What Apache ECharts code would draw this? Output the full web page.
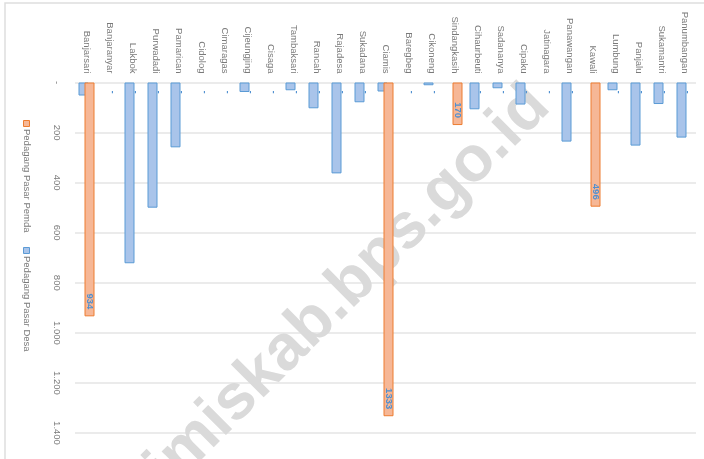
<!DOCTYPE html>
<html>
<head>
<meta charset="utf-8">
<script src="https://cdn.jsdelivr.net/npm/echarts@6/dist/echarts.min.js"></script>
<style>
html,body{margin:0;padding:0;background:#fff;}
#chart{width:704px;height:459px;}
</style>
</head>
<body>
<div id="chart"></div>
<script>
const categories = ['Banjarsari','Banjaranyar','Lakbok','Purwadadi','Pamarican','Cidolog','Cimaragas','Cijeungjing','Cisaga','Tambaksari','Rancah','Rajadesa','Sukadana','Ciamis','Baregbeg','Cikoneng','Sindangkasih','Cihaurbeuti','Sadananya','Cipaku','Jatinagara','Panawangan','Kawali','Lumbung','Panjalu','Sukamantri','Panumbangan'];
const pasarDesa  = [52,0,722,500,259,0,0,38,0,31,103,363,79,36,0,11,0,107,23,88,0,236,0,31,252,86,220];
const pasarPemda = [934,0,0,0,0,0,0,0,0,0,0,0,0,1333,0,0,170,0,0,0,0,0,496,0,0,0,0];
const seriesNames = ['Pedagang Pasar Pemda','Pedagang Pasar Desa'];
const valueMin = 0, valueMax = 1400, valueStep = 200;
const watermarkText = 'simiskab.bps.go.id';

const FONT = "'Liberation Sans',Arial,sans-serif";
const FS = 9.5;
const ORANGE = '#f6b796', ORANGE_LINE = '#ed7d31';
const BLUE = '#a9c4ea', BLUE_LINE = '#5b9bd5';

function axisFmt(v){
  if (v === 0) return '-';
  return String(v).replace(/\B(?=(\d{3})+(?!\d))/g, '.');
}
function labelFmt(v){
  return v === 0 ? '-' : String(v);
}

const desaData = pasarDesa.map(v => v === 0
  ? {value: v, itemStyle: {borderWidth: 0}}
  : {value: v});
const pemdaData = pasarPemda.map(v => v === 0
  ? {value: v, itemStyle: {borderWidth: 0},
     label: {position: 'bottom', distance: 8, align: 'left', verticalAlign: 'middle'}}
  : {value: v});

const chart = echarts.init(document.getElementById('chart'), null, {renderer: 'canvas'});
chart.setOption({
  animation: false,
  backgroundColor: '#fff',
  grid: {left: 75, right: 8, top: 82.5, bottom: 26, containLabel: false},
  xAxis: {
    type: 'category',
    position: 'top',
    data: categories,
    axisLine: {show: false},
    axisTick: {show: false},
    axisLabel: {rotate: -90, interval: 0, margin: 9, color: '#7a7a7a', fontSize: FS, fontFamily: FONT}
  },
  yAxis: {
    type: 'value',
    inverse: true,
    min: valueMin, max: valueMax, interval: valueStep,
    axisLine: {show: false},
    axisTick: {show: false},
    splitLine: {lineStyle: {color: '#e4e4e4', width: 1.5}},
    axisLabel: {rotate: -90, margin: 13, color: '#7a7a7a', fontSize: FS, fontFamily: FONT, formatter: axisFmt}
  },
  series: [
    {
      name: seriesNames[1], type: 'bar', data: desaData,
      barWidth: 10, barGap: '-40%',
      itemStyle: {color: BLUE, borderColor: BLUE_LINE, borderWidth: 1}
    },
    {
      name: seriesNames[0], type: 'bar', data: pemdaData,
      barWidth: 10, barGap: '-40%',
      itemStyle: {color: ORANGE, borderColor: ORANGE_LINE, borderWidth: 1},
      label: {
        show: true, position: 'insideBottom', distance: 7, rotate: -90,
        align: 'right', verticalAlign: 'middle',
        color: '#4f8fd0', fontWeight: 'bold', fontSize: FS, fontFamily: FONT,
        formatter: p => labelFmt(p.value)
      }
    }
  ],
  graphic: [
    {type: 'rect', z: 0, shape: {x: 5, y: 3, width: 900, height: 700}, style: {fill: null, stroke: '#dedede', lineWidth: 1.5}},
    {type: 'text', z: 1, x: 336, y: 300, rotation: Math.PI/4,
     style: {text: watermarkText, x: 0, y: 0, align: 'center', verticalAlign: 'middle', font: "bold 64px 'Liberation Sans', Arial, sans-serif", fill: '#dadada'}},
    {type: 'rect', z: 3, shape: {x: 23.5, y: 120.5, width: 6, height: 6}, style: {fill: ORANGE, stroke: ORANGE_LINE, lineWidth: 1}},
    {type: 'text', z: 3, x: 27, y: 129, rotation: -Math.PI/2,
     style: {text: seriesNames[0], x: 0, y: 0, align: 'left', verticalAlign: 'middle', font: FS + "px " + FONT, fill: '#7a7a7a'}},
    {type: 'rect', z: 3, shape: {x: 23.5, y: 247.5, width: 6, height: 6}, style: {fill: BLUE, stroke: BLUE_LINE, lineWidth: 1}},
    {type: 'text', z: 3, x: 27, y: 256, rotation: -Math.PI/2,
     style: {text: seriesNames[1], x: 0, y: 0, align: 'left', verticalAlign: 'middle', font: FS + "px " + FONT, fill: '#7a7a7a'}}
  ]
});
</script>
</body>
</html>
